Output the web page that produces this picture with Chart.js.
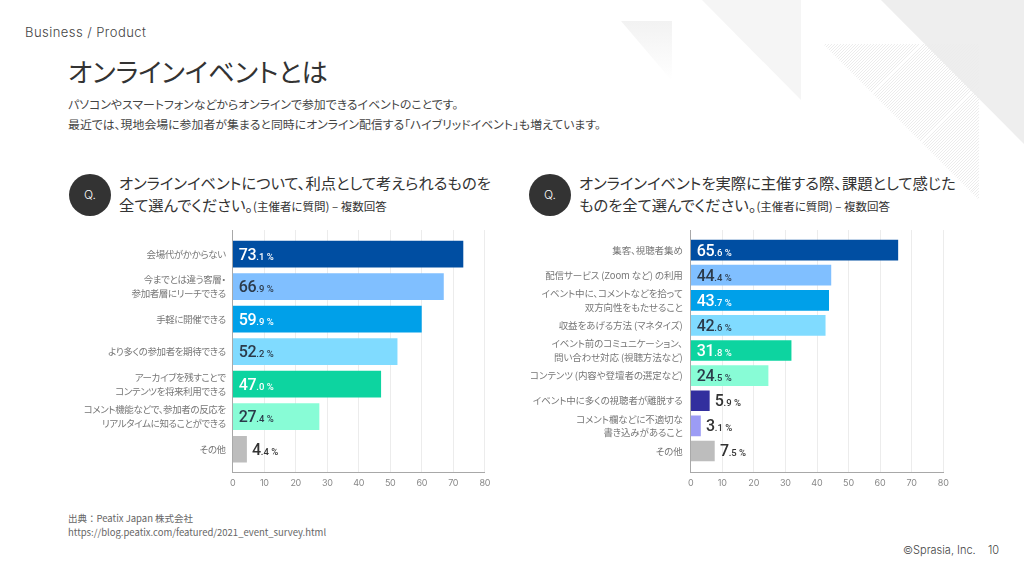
<!DOCTYPE html>
<html lang="ja">
<head>
<meta charset="utf-8">
<script src="https://cdn.jsdelivr.net/npm/chart.js@4/dist/chart.umd.min.js"></script>
<style>
html,body{margin:0;padding:0;background:#fff;}
body{width:1024px;height:580px;position:relative;overflow:hidden;font-family:"Noto Sans CJK JP","Noto Sans",sans-serif;color:#333;font-feature-settings:"palt";}
.t{position:absolute;white-space:nowrap;}
.bg{position:absolute;}
canvas{position:absolute;}
.q{position:absolute;width:42px;height:42px;border-radius:50%;background:#333;color:#fff;font:300 12px/42px Inter,sans-serif;text-align:center;top:174px;}
small{font-size:11.5px;}
</style>
</head>
<body>
<div class="bg" style="left:621px;top:21px;width:51px;height:60px;clip-path:polygon(0 0,100% 0,100% 100%);background:linear-gradient(to bottom,#f2f2f2,#fff)"></div>
<div class="bg" style="left:702px;top:0;width:99px;height:100px;clip-path:polygon(0 0,100% 0,100% 100%);background:#f5f5f5"></div>
<div class="bg" style="left:881px;top:0;width:143px;height:144px;clip-path:polygon(0 0,100% 0,100% 100%);background:#eeeeee"></div>
<div class="bg" style="left:823px;top:44px;width:156px;height:156px;clip-path:polygon(0 0,100% 0,100% 100%);background:repeating-linear-gradient(135deg,#ececec 0 0.7px,transparent 0.7px 2.1px)"></div>

<div class="t" style="left:25px;top:23px;font:300 13px/19px Inter,sans-serif;letter-spacing:.45px;color:#444;">Business / Product</div>
<div class="t" style="left:68px;top:53px;font-size:26.3px;line-height:35px;color:#333;">オンラインイベントとは</div>
<div class="t" style="left:68px;top:94px;font-size:11.9px;line-height:19.5px;color:#444;">パソコンやスマートフォンなどからオンラインで参加できるイベントのことです。<br>最近では、現地会場に参加者が集まると同時にオンライン配信する「ハイブリッドイベント」も増えています。</div>

<div class="q" style="left:69px">Q.</div>
<div class="t" style="left:119px;top:172px;font-size:15.3px;line-height:21.5px;color:#333;">オンラインイベントについて、利点として考えられるものを<br>全て選んでください。<small>(主催者に質問) – 複数回答</small></div>
<div class="q" style="left:529px">Q.</div>
<div class="t" style="left:579px;top:172px;font-size:15.3px;line-height:21.5px;color:#333;">オンラインイベントを実際に主催する際、課題として感じた<br>ものを全て選んでください。<small>(主催者に質問) – 複数回答</small></div>

<canvas id="chartLeft" width="440" height="270" style="left:60px;top:225px;width:440px;height:270px"></canvas>
<canvas id="chartRight" width="440" height="270" style="left:510px;top:225px;width:440px;height:270px"></canvas>

<div class="t" style="left:68px;top:511px;font-size:9.5px;line-height:14px;color:#666;font-feature-settings:normal;">出典：Peatix Japan 株式会社<br>https://blog.peatix.com/featured/2021_event_survey.html</div>
<div class="t" style="left:903px;top:542px;font:300 11px/16px Inter,sans-serif;color:#444;">©Sprasia, Inc.</div>
<div class="t" style="left:988px;top:542px;font:300 11px/16px Inter,sans-serif;color:#444;">10</div>

<script>
const leftLabels = [
  '会場代がかからない',
  ['今までとは違う客層・', '参加者層にリーチできる'],
  '手軽に開催できる',
  'より多くの参加者を期待できる',
  ['アーカイブを残すことで', 'コンテンツを将来利用できる'],
  ['コメント機能などで、参加者の反応を', 'リアルタイムに知ることができる'],
  'その他'
];
const leftValues = [73.1, 66.9, 59.9, 52.2, 47.0, 27.4, 4.4];
const leftColors = ['#004ea2', '#80bfff', '#00a0e9', '#80dbff', '#0dd4a0', '#88fcd6', '#bdbdbd'];
const leftTextColors = ['#fff', '#2b3a4a', '#fff', '#2b3a4a', '#fff', '#2b3a4a', '#333'];

const rightLabels = [
  '集客、視聴者集め',
  '配信サービス (Zoom など) の利用',
  ['イベント中に、コメントなどを拾って', '双方向性をもたせること'],
  '収益をあげる方法 (マネタイズ)',
  ['イベント前のコミュニケーション、', '問い合わせ対応 (視聴方法など)'],
  'コンテンツ (内容や登壇者の選定など)',
  'イベント中に多くの視聴者が離脱する',
  ['コメント欄などに不適切な', '書き込みがあること'],
  'その他'
];
const rightValues = [65.6, 44.4, 43.7, 42.6, 31.8, 24.5, 5.9, 3.1, 7.5];
const rightColors = ['#004ea2', '#80bfff', '#00a0e9', '#80dbff', '#0dd4a0', '#88fcd6', '#322f9e', '#9c9cf5', '#bdbdbd'];
const rightTextColors = ['#fff', '#2b3a4a', '#fff', '#2b3a4a', '#fff', '#2b3a4a', '#333', '#333', '#333'];

const xTicks = [0, 10, 20, 30, 40, 50, 60, 70, 80];

// 値ラベル: 整数部は大きく、小数部と%は小さく描く
const valueLabels = {
  id: 'valueLabels',
  beforeDraw(chart, args, opts) {
    // カナを詰めて見せるための字間
    chart.ctx.letterSpacing = opts.spacing;
  },
  afterDatasetsDraw(chart, args, opts) {
    const ctx = chart.ctx;
    const bars = chart.getDatasetMeta(0).data;
    const values = chart.data.datasets[0].data;
    ctx.save();
    ctx.letterSpacing = '0px';
    ctx.textBaseline = 'alphabetic';
    bars.forEach((bar, i) => {
      const v = values[i].x;
      const parts = v.toFixed(1).split('.');
      const inside = v > 10;
      let x = bar.base + (inside ? 5.5 : bar.width + 5.5);
      const y = bar.y + 5.5;
      ctx.fillStyle = opts.colors[i];
      ctx.font = '500 16px Roboto, sans-serif';
      ctx.letterSpacing = '-0.3px';
      ctx.fillText(parts[0], x, y);
      x += ctx.measureText(parts[0]).width;
      ctx.letterSpacing = '0px';
      ctx.font = '500 9.5px Roboto, sans-serif';
      ctx.fillText('.' + parts[1] + ' %', x, y);
    });
    ctx.restore();
  }
};

function makeChart(id, labels, values, colors, textColors, plotLeft, plotRight, yMin, yMax, barSize, spacing, labelGap) {
  return new Chart(document.getElementById(id), {
    type: 'bar',
    data: {
      datasets: [{
        data: values.map((v, i) => ({ x: v, y: i })),
        backgroundColor: colors,
        barThickness: barSize,
        borderWidth: 0
      }]
    },
    plugins: [valueLabels],
    options: {
      indexAxis: 'y',
      responsive: false,
      animation: false,
      layout: { padding: { top: 5, right: plotRight, left: 0, bottom: 0 } },
      plugins: {
        legend: { display: false },
        tooltip: { enabled: false },
        valueLabels: { colors: textColors, spacing: spacing }
      },
      scales: {
        x: {
          type: 'linear',
          min: 0,
          max: 80,
          afterBuildTicks: (s) => { s.ticks = xTicks.map((value) => ({ value })); },
          afterFit: (s) => { s.height = 22.7; s.paddingLeft = 0; s.paddingRight = 0; },
          grid: { color: '#ececec', lineWidth: 1, drawTicks: false },
          border: { color: '#a8a8a8', width: 1 },
          ticks: { color: '#888', font: { size: 9, family: 'Inter, sans-serif' }, padding: 6, maxRotation: 0 }
        },
        y: {
          type: 'linear',
          reverse: true,
          offset: false,
          min: yMin,
          max: yMax,
          afterBuildTicks: (s) => { s.ticks = labels.map((_, i) => ({ value: i })); },
          afterFit: (s) => { s.width = plotLeft; s.paddingTop = 0; s.paddingBottom = 0; },
          grid: { display: false, drawTicks: false, offset: false },
          border: { color: '#a8a8a8', width: 1 },
          ticks: {
            autoSkip: false,
            color: '#777',
            font: { size: 9.5, family: '"Noto Sans CJK JP", sans-serif', lineHeight: 1.45 },
            padding: labelGap,
            callback: (v) => labels[v]
          }
        }
      }
    }
  });
}

makeChart('chartLeft', leftLabels, leftValues, leftColors, leftTextColors, 172.7, 15.3, -0.74, 6.71, 26, '-0.4px', 7);
makeChart('chartRight', rightLabels, rightValues, rightColors, rightTextColors, 180.7, 6.7, -0.8, 8.85, 20, '-0.1px', 8);
</script>
</body>
</html>
